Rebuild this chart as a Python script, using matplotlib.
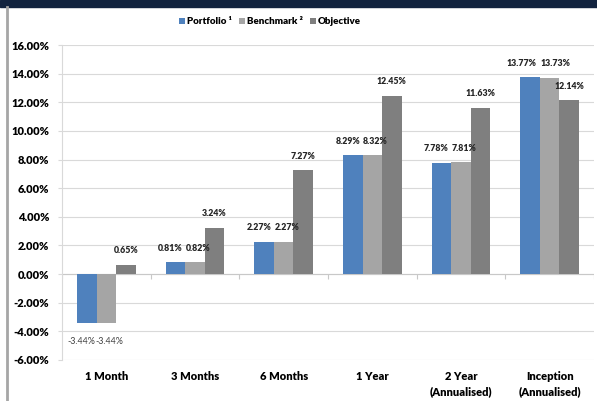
import numpy as np
import matplotlib.pyplot as plt
from matplotlib.lines import Line2D
from matplotlib.patches import Rectangle

plt.rcParams['font.family'] = ['Lato', 'DejaVu Sans']

categories = ['1 Month', '3 Months', '6 Months', '1 Year',
              '2 Year\n(Annualised)', 'Inception\n(Annualised)']
portfolio = [-3.44, 0.81, 2.27, 8.29, 7.78, 13.77]
benchmark = [-3.44, 0.82, 2.27, 8.32, 7.81, 13.73]
objective = [0.65, 3.24, 7.27, 12.45, 11.63, 12.14]
series_names = ['Portfolio \u00b9', 'Benchmark \u00b2', 'Objective']
yticks = np.arange(-6, 17, 2)

colors = ['#4F81BD', '#A5A5A5', '#7F7F7F']
px = 72 / 100  # points per pixel

fig = plt.figure(figsize=(5.97, 4.01), dpi=100)
ax = fig.add_axes([62 / 597, 41 / 401, 532 / 597, 315 / 401])

# header band and left frame line
fig.patches.append(Rectangle((0, 394 / 401), 1, 7 / 401, transform=fig.transFigure,
                             color='#12233F', zorder=0))
fig.lines.append(Line2D([6.5 / 597, 6.5 / 597], [0, 394 / 401], transform=fig.transFigure,
                        color='#A6A6A6', lw=2))

x = np.arange(len(categories))
w = 0.22
data = [portfolio, benchmark, objective]
for i, vals in enumerate(data):
    ax.bar(x + (i - 1) * w, vals, w, color=colors[i], label=series_names[i],
           edgecolor='none', zorder=3)

# data labels
for j in range(len(categories)):
    # portfolio / benchmark pair, pushed apart so they don't collide
    p, b = portfolio[j], benchmark[j]
    top = max(p, b)
    sep = 34 if max(p, b) >= 10 else 28
    for i, v in enumerate([p, b]):
        bar_x = x[j] + (i - 1) * w
        shift = (w * 532 / 6) / 2 * (1 if i == 0 else -1)  # to pair middle, px
        dx = (shift - 1 + (-sep / 2 if i == 0 else sep / 2)) * px
        if v < 0:
            ax.annotate(f'{v:.2f}%', (bar_x, v), xytext=(dx, -13),
                        textcoords='offset points', ha='center', va='center',
                        fontsize=6.4, color='#404040', zorder=5)
        else:
            ax.annotate(f'{v:.2f}%', (bar_x, top), xytext=(dx, 10),
                        textcoords='offset points', ha='center', va='center',
                        fontsize=6.3, fontweight='heavy', color='#262626', zorder=5)
    v = objective[j]
    ax.annotate(f'{v:.2f}%', (x[j] + w, v), xytext=(0, 10),
                textcoords='offset points', ha='center', va='center',
                fontsize=6.3, fontweight='heavy', color='#262626', zorder=5)

ax.set_xlim(-0.5, len(categories) - 0.5)
ax.set_ylim(-6, 16)
ax.set_yticks(yticks)
ax.set_yticklabels([f'{t:.2f}%' for t in yticks], fontsize=8, fontweight='heavy')
ax.set_xticks(x)
ax.set_xticklabels(categories, fontsize=8, fontweight='heavy', linespacing=1.4)
ax.tick_params(axis='x', length=0, pad=8)
ax.tick_params(axis='y', length=3, color='#D9D9D9', pad=6)
ax.grid(axis='y', color='#D9D9D9', lw=0.8, zorder=0)
for s in ['top', 'right', 'bottom']:
    ax.spines[s].set_visible(False)
ax.spines['left'].set_color('#D9D9D9')

# category axis at zero with boundary ticks
ax.axhline(0, color='#C8C8C8', lw=0.8, zorder=2)
ax.vlines(np.arange(len(categories) + 1) - 0.5, -0.35, 0, color='#C8C8C8', lw=0.8, zorder=2)

fig.legend(loc='center left', bbox_to_anchor=(179 / 597, 1 - 22 / 401), ncol=3,
           frameon=False, prop={'size': 7, 'weight': 'heavy'},
           handlelength=0.6, handleheight=0.6, handletextpad=0.25,
           columnspacing=0.7, borderpad=0, borderaxespad=0)

fig.savefig('out.png', dpi=100)
